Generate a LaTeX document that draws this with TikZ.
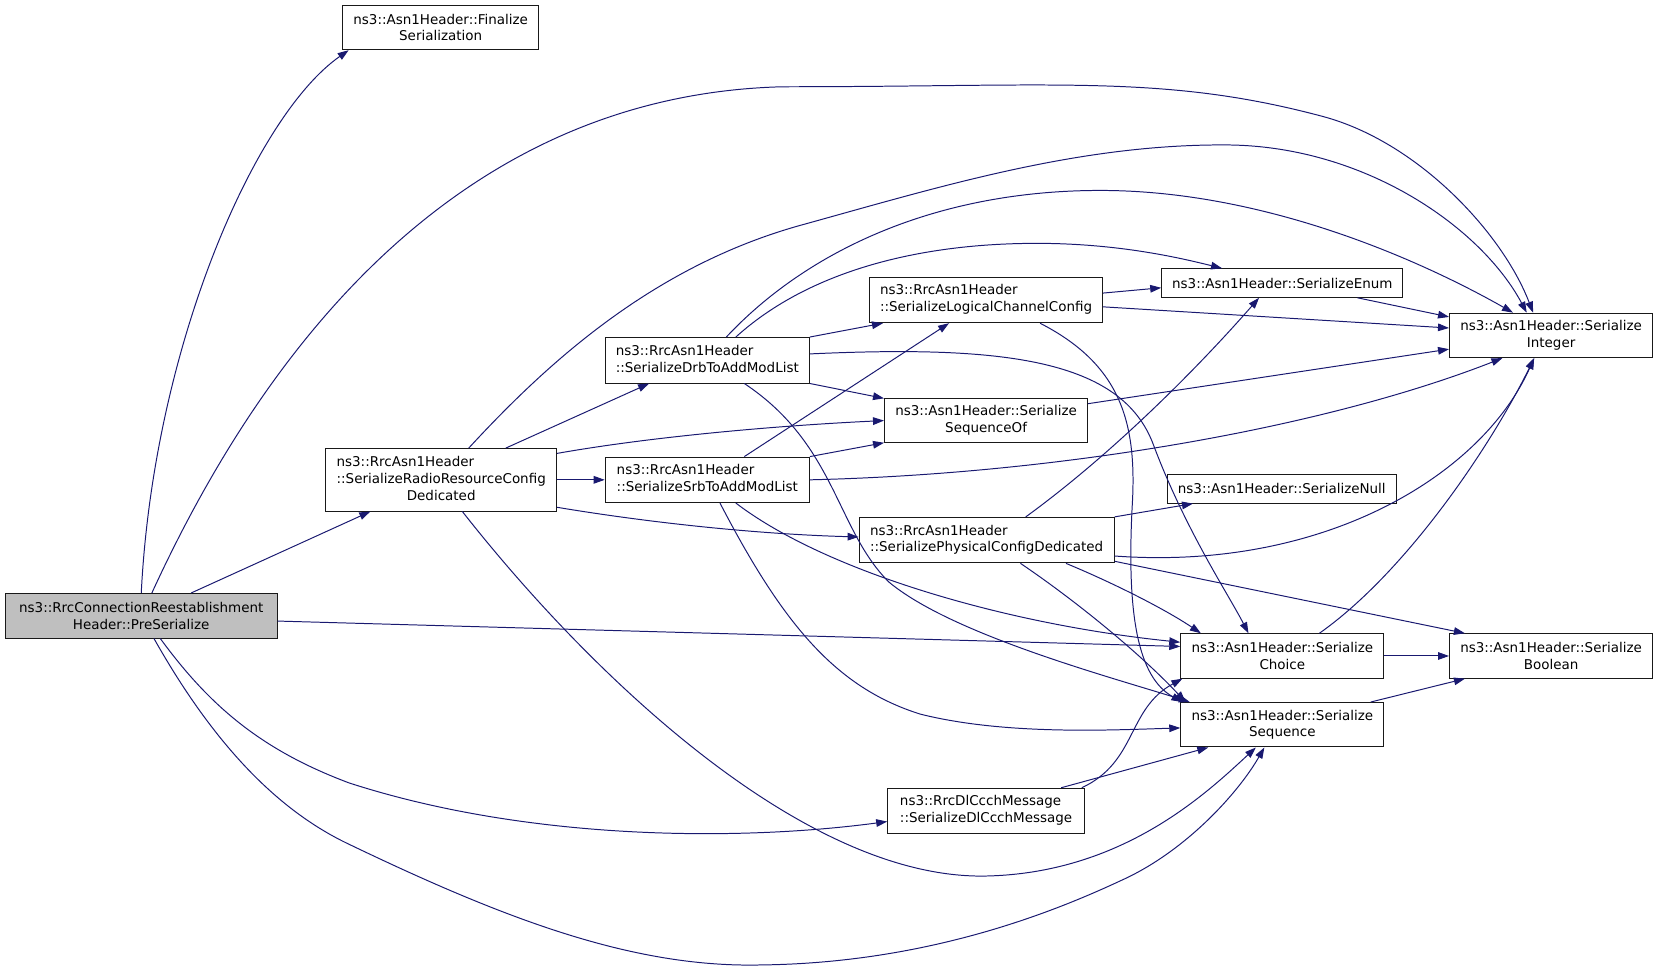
\documentclass[tikz,border=0pt]{standalone}
\usepackage{fontspec}
\setmainfont{DejaVu Sans}
\usetikzlibrary{arrows.meta,calc}
\definecolor{edgeblue}{RGB}{25,25,112}
\definecolor{rootgray}{RGB}{191,191,191}
\newcommand{\leftlines}[1]{\begin{tabular}{@{}l@{}}#1\end{tabular}}
\tikzset{every picture/.style={line width=0.7pt}}
\tikzset{
  fnbox/.style={draw=black!90, fill=white, inner sep=0pt, align=center, font=\fontsize{9.55}{12}\selectfont},
  rootbox/.style={fnbox, fill=rootgray},
  call/.style={draw=edgeblue, -{Triangle[length=7.8pt,width=5.4pt]}},
}
\begin{document}
\begin{tikzpicture}[x=0.75pt,y=0.75pt,yscale=-1,xscale=1]
\useasboundingbox (0,0) rectangle (1568,918.7);
%Shape: Rectangle (functions)
\node [rootbox, minimum width=192.75pt, minimum height=31.5pt] (root) at (133.5,582) {ns3::RrcConnectionReestablishment\\Header::PreSerialize};
\node [fnbox, minimum width=138.75pt, minimum height=31.5pt] (fin) at (416.5,26) {ns3::Asn1Header::Finalize\\Serialization};
\node [fnbox, minimum width=163.5pt, minimum height=44.25pt] (radio) at (417,453.5) {\leftlines{ns3::RrcAsn1Header\\::SerializeRadioResourceConfig\\\multicolumn{1}{@{}c@{}}{Dedicated}}};
\node [fnbox, minimum width=144.75pt, minimum height=32.25pt] (drb) at (668.5,340.5) {\leftlines{ns3::RrcAsn1Header\\::SerializeDrbToAddModList}};
\node [fnbox, minimum width=144.75pt, minimum height=32.25pt] (srb) at (668.5,453.5) {\leftlines{ns3::RrcAsn1Header\\::SerializeSrbToAddModList}};
\node [fnbox, minimum width=165pt, minimum height=32.25pt] (logic) at (932,283.5) {\leftlines{ns3::RrcAsn1Header\\::SerializeLogicalChannelConfig}};
\node [fnbox, minimum width=144pt, minimum height=30.75pt] (seqof) at (932,397.5) {ns3::Asn1Header::Serialize\\SequenceOf};
\node [fnbox, minimum width=180.75pt, minimum height=32.25pt] (phys) at (932.5,510.5) {\leftlines{ns3::RrcAsn1Header\\::SerializePhysicalConfigDedicated}};
\node [fnbox, minimum width=139.5pt, minimum height=32.25pt] (dlccch) at (932,766.5) {\leftlines{ns3::RrcDlCcchMessage\\::SerializeDlCcchMessage}};
\node [fnbox, minimum width=171pt, minimum height=20.25pt] (enum) at (1212,267.5) {ns3::Asn1Header::SerializeEnum};
\node [fnbox, minimum width=162.75pt, minimum height=20.25pt] (null) at (1211.5,462) {ns3::Asn1Header::SerializeNull};
\node [fnbox, minimum width=144pt, minimum height=31.5pt] (integer) at (1466,317) {ns3::Asn1Header::Serialize\\Integer};
\node [fnbox, minimum width=144pt, minimum height=31.5pt] (choice) at (1212,620) {ns3::Asn1Header::Serialize\\Choice};
\node [fnbox, minimum width=144pt, minimum height=31.5pt] (boolean) at (1466,620) {ns3::Asn1Header::Serialize\\Boolean};
\node [fnbox, minimum width=144pt, minimum height=31.5pt] (sequence) at (1212,685) {ns3::Asn1Header::Serialize\\Sequence};
%Curve Lines: PreSerialize
\draw [call] (root.north) .. controls (145,330) and (240,110) .. ($(fin.south west)+(6,0)$);
\draw [call] ($(root.north)+(10,0)$) .. controls (240,350) and (420,90) .. (740,82) .. controls (1000,82) and (1100,70) .. (1250,110) .. controls (1340,134) and (1420,220) .. ($(integer.north)+(-17,0)$);
\draw [call] ($(root.north)+(47,0)$) -- ($(radio.south)+(-67,0)$);
\draw [call] ($(root.east)+(0,5)$) -- ($(choice.west)+(0,-9)$);
\draw [call] ($(root.south)+(12,0)$) .. controls (200,700) and (260,765) .. (330,798) .. controls (480,870) and (600,915) .. (720,912) .. controls (880,910) and (1000,860) .. (1060,832) .. controls (1120,805) and (1170,750) .. ($(sequence.south)+(-17,0)$);
\draw [call] ($(root.south)+(18,0)$) .. controls (200,670) and (250,710) .. (330,740) .. controls (500,795) and (700,795) .. ($(dlccch.west)+(0,10)$);
%Curve Lines: SerializeRadioResourceConfigDedicated
\draw [call] ($(radio.north)+(26,0)$) .. controls (520,340) and (620,250) .. (760,212) .. controls (890,176) and (1020,136) .. (1160,137) .. controls (1290,138) and (1400,215) .. ($(integer.north)+(-23,0)$);
\draw [call] ($(radio.north)+(61,0)$) -- ($(drb.south)+(-55,0)$);
\draw [call] ($(radio.north east)+(0,5)$) .. controls (620,412) and (740,402) .. (seqof.west);
\draw [call] (radio.east) -- (srb.west);
\draw [call] ($(radio.south east)+(0,-4)$) .. controls (620,495) and (720,505) .. ($(phys.west)+(0,-3)$);
\draw [call] ($(radio.south)+(20,0)$) .. controls (560,640) and (760,830) .. (930,828) .. controls (1060,826) and (1140,750) .. ($(sequence.south)+(-25,0)$);
%Curve Lines: SerializeDrbToAddModList
\draw [call] ($(drb.north)+(18,0)$) .. controls (760,240) and (880,180) .. (1040,180) .. controls (1200,180) and (1350,250) .. ($(integer.north)+(-36,0)$);
\draw [call] ($(drb.north)+(27,0)$) .. controls (760,260) and (860,230) .. (980,230) .. controls (1060,230) and (1120,245) .. ($(enum.north)+(-57,0)$);
\draw [call] (drb.north east) -- ($(logic.south west)+(13,0)$);
\draw [call] (drb.south east) -- (seqof.north west);
\draw [call] ($(drb.east)+(0,-6)$) .. controls (950,326) and (1060,340) .. (1090,420) .. controls (1120,500) and (1160,560) .. ($(choice.north)+(-32,0)$);
\draw [call] ($(drb.south)+(35,0)$) .. controls (790,420) and (790,500) .. (840,550) .. controls (900,600) and (1050,640) .. ($(sequence.north west)+(9,0)$);
%Curve Lines: SerializeSrbToAddModList
\draw [call] ($(srb.north)+(35,0)$) -- ($(logic.south)+(-35,0)$);
\draw [call] (srb.north east) -- (seqof.south west);
\draw [call] (srb.east) .. controls (1000,448) and (1250,405) .. ($(integer.south)+(-46,0)$);
\draw [call] ($(srb.south)+(27,0)$) .. controls (780,540) and (950,590) .. ($(choice.west)+(0,-13)$);
\draw [call] ($(srb.south)+(12,0)$) .. controls (740,590) and (790,650) .. (870,675) .. controls (950,695) and (1050,690) .. ($(sequence.west)+(0,3)$);
%Curve Lines: SerializeLogicalChannelConfig
\draw [call] ($(logic.east)+(0,-6.5)$) -- ($(enum.west)+(0,4.5)$);
\draw [call] ($(logic.east)+(0,6.5)$) -- ($(integer.west)+(0,-7)$);
\draw [call] ($(logic.south)+(51,0)$) .. controls (1060,345) and (1075,400) .. (1070,480) .. controls (1065,580) and (1075,640) .. ($(sequence.north west)+(2,0)$);
%Straight Lines: SerializeSequenceOf, SerializeEnum
\draw [call] ($(seqof.north east)+(0,5)$) -- ($(integer.west)+(0,13)$);
\draw [call] ($(enum.south)+(71,0)$) -- ($(integer.north west)+(0,4)$);
%Curve Lines: SerializePhysicalConfigDedicated
\draw [call] ($(phys.north)+(37,0)$) .. controls (1050,430) and (1130,350) .. ($(enum.south)+(-22,0)$);
\draw [call] (phys.north east) -- ($(null.south west)+(25,0)$);
\draw [call] ($(phys.east)+(0,15)$) .. controls (1250,540) and (1400,450) .. ($(integer.south)+(-16,0)$);
\draw [call] ($(phys.east)+(0,20)$) -- ($(boolean.north west)+(15,0)$);
\draw [call] ($(phys.south)+(75,0)$) .. controls (1050,550) and (1100,575) .. ($(choice.north)+(-77,0)$);
\draw [call] ($(phys.south)+(32,0)$) .. controls (1020,570) and (1080,620) .. ($(sequence.north west)+(5,0)$);
%Lines: SerializeChoice, SerializeSequence
\draw [call] ($(choice.north)+(35,0)$) .. controls (1330,540) and (1410,420) .. ($(integer.south)+(-16,0)$);
\draw [call] (choice.east) -- (boolean.west);
\draw [call] ($(sequence.north east)+(-13,0)$) -- ($(boolean.south west)+(15,0)$);
%Curve Lines: SerializeDlCcchMessage
\draw [call] ($(dlccch.north east)+(-3,0)$) .. controls (1075,720) and (1065,670) .. ($(choice.south west)+(2,0)$);
\draw [call] ($(dlccch.north)+(71,0)$) -- ($(sequence.south)+(-70,0)$);
\end{tikzpicture}
\end{document}
